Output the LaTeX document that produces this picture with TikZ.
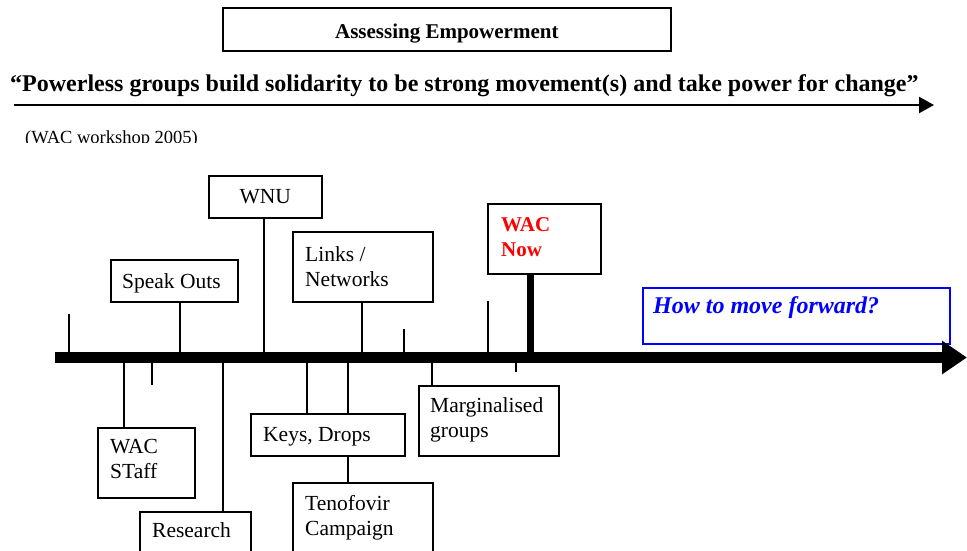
\documentclass[tikz,border=0pt]{standalone}
\usepackage{fontspec}
\setmainfont{Liberation Serif}
\usetikzlibrary{arrows.meta,calc}
\definecolor{wacred}{RGB}{255,0,0}
\definecolor{wacblue}{RGB}{0,0,255}
\newcommand{\bodyfont}{\fontsize{21.5}{25}\selectfont}
\newcommand{\twolines}[1]{\begin{tabular}[t]{@{}l@{}}#1\end{tabular}}
\begin{document}
\begin{tikzpicture}[x=1pt,y=-1pt,
  box/.style={draw, line width=1.6pt, inner sep=0pt, anchor=north west},
  lbl/.style={inner sep=0pt, anchor=base west, font=\bodyfont},
  conn/.style={line width=1.8pt},
  bar/.style={line width=11pt, -{Triangle[length=25pt,width=32pt]}},
  ]
\clip (0,0) rectangle (967,551);

% title box
\node[box, minimum width=448pt, minimum height=43pt] (title) at (222,7) {};
\node[inner sep=0pt, anchor=base, font=\fontsize{21}{23}\selectfont\bfseries] (titlet) at ($(title.center)+(0,9)$) {Assessing Empowerment};

% quote and thin arrow
\node[inner sep=0pt, anchor=base west, font=\fontsize{24}{26}\selectfont\bfseries] (quote) at (10,92) {“Powerless groups build solidarity to be strong movement(s) and take power for change”};
\coordinate (qa) at (14,105);
\coordinate (qb) at (934,105);
\draw[line width=2.4pt, -{Triangle[length=15pt,width=16pt]}] (qa) -- (qb);

\begin{scope}
\clip (0,0) rectangle (967,142);
\node[lbl, font=\fontsize{18.5}{20}\selectfont] (src) at (25,143.5) {(WAC workshop 2005)};
\end{scope}

% timeline
\coordinate (bar0) at (55,357.5);
\coordinate (barend) at (967,357.5);

% boxes
\node[box, minimum width=127pt, minimum height=42pt] (so) at (110,259) {};
\node[box, minimum width=113pt, minimum height=42pt] (wnu) at (208,175) {};
\node[box, minimum width=140pt, minimum height=70pt] (links) at (292,231) {};
\node[box, minimum width=113pt, minimum height=70pt] (now) at (487,203) {};
\node[box, draw=wacblue, minimum width=307pt, minimum height=56pt] (how) at (642,287) {};
\node[box, minimum width=97pt, minimum height=70pt] (staff) at (97,427) {};
\node[box, minimum width=111pt, minimum height=70pt] (res) at (139,511) {};
\node[box, minimum width=154pt, minimum height=42pt] (keys) at (250,413) {};
\node[box, minimum width=140pt, minimum height=100pt] (teno) at (292,482) {};
\node[box, minimum width=140pt, minimum height=70pt] (marg) at (418,385) {};

% texts
\node[lbl] (sot) at (122,288) {Speak Outs};
\node[inner sep=0pt, font=\bodyfont] (wnut) at (wnu.center) {WNU};
\node[lbl] (linkst) at (305,261) {\twolines{Links /\\Networks}};
\node[lbl, font=\fontsize{21}{25}\selectfont\bfseries, text=wacred] (nowt) at (501,231) {\twolines{WAC\\Now}};
\node[lbl, font=\fontsize{24}{26}\selectfont\bfseries\itshape, text=wacblue] (howt) at (653,313) {How to move forward?};
\node[lbl] (stafft) at (110,453) {\twolines{WAC\\STaff}};
\node[lbl] (rest) at (152,537) {Research};
\node[lbl] (keyst) at (263,441) {Keys, Drops};
\node[lbl] (tenot) at (305,510) {\twolines{Tenofovir\\Campaign}};
\node[lbl] (margt) at (430,412) {\twolines{Marginalised\\groups}};

% bar points
\coordinate (bso) at (180,357.5);
\coordinate (bwnu) at (264,357.5);
\coordinate (blinks) at (362,357.5);
\coordinate (bnow) at (530,357.5);
\coordinate (bstaff) at (124,357.5);
\coordinate (bres) at (223,357.5);
\coordinate (bk1) at (307,357.5);
\coordinate (bk2) at (348,357.5);
\coordinate (bmarg) at (432,357.5);

% connectors
\draw[conn] (so.south -| bso) -- (bso);
\draw[conn] (wnu.south -| bwnu) -- (bwnu);
\draw[conn] (links.south -| blinks) -- (blinks);
\draw[line width=7pt] (now.south -| bnow) -- (bnow);
\draw[conn] (bstaff) -- (staff.north -| bstaff);
\draw[conn] (bres) -- (res.north -| bres);
\draw[conn] (bk1) -- (keys.north -| bk1);
\draw[conn] (bk2) -- (keys.north -| bk2);
\draw[conn] (keys.south -| bk2) -- (teno.north -| bk2);
\draw[conn] (bmarg) -- (marg.north -| bmarg);

% free ticks
\coordinate (u1) at (69,314);
\coordinate (u2) at (404,329);
\coordinate (u3) at (488,301);
\coordinate (d1) at (152,385);
\coordinate (d2) at (516,372);
\draw[conn] (u1) -- (u1 |- bar0);
\draw[conn] (u2) -- (u2 |- bar0);
\draw[conn] (u3) -- (u3 |- bar0);
\draw[conn] (d1) -- (d1 |- bar0);
\draw[conn] (d2) -- (d2 |- bar0);

\draw[bar] (bar0) -- (barend);
\end{tikzpicture}
\end{document}
